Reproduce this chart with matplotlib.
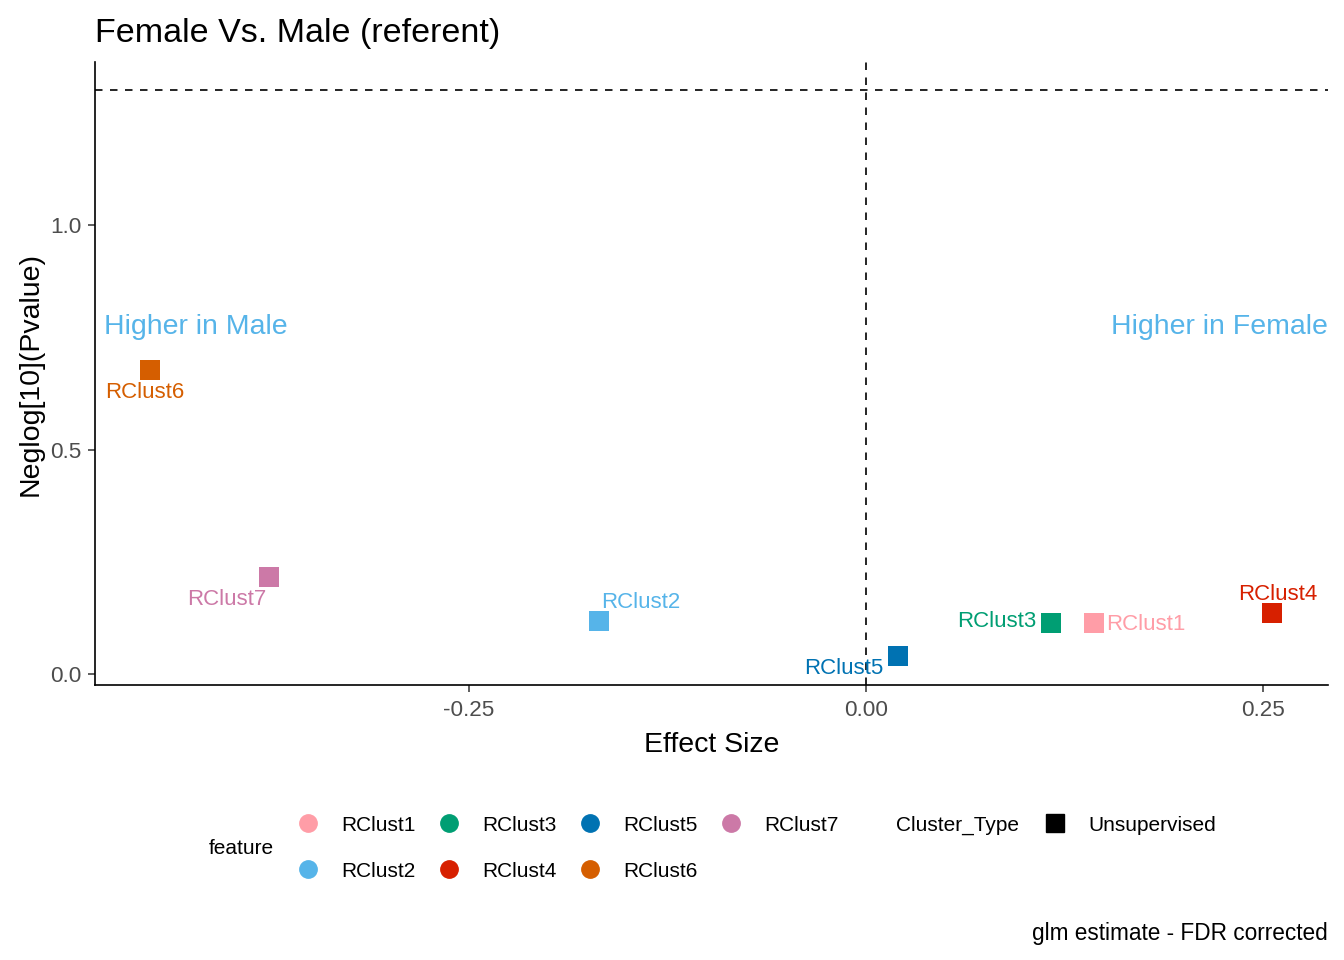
import numpy as np
import matplotlib.pyplot as plt
from matplotlib.lines import Line2D

plt.rcParams['font.family'] = ['Liberation Sans', 'DejaVu Sans']

# data
features = ['RClust1', 'RClust2', 'RClust3', 'RClust4', 'RClust5', 'RClust6', 'RClust7']
effect = [0.144, -0.168, 0.1165, 0.2557, 0.0202, -0.4509, -0.376]
neglogp = [0.1136, 0.118, 0.1136, 0.136, 0.040, 0.677, 0.216]
colors = ['#FF9DA7', '#56B4E9', '#009E73', '#D72000', '#0072B2', '#D55E00', '#CC79A7']
# label offsets (points) from ggrepel-like placement
label_dx = [37, 30, -39, 4, -39, -4, -30]
label_dy = [-1, 13, 1, 13, -9, -16, -16]

sig_line = -np.log10(0.05)

fig = plt.figure(figsize=(13.44, 9.6), dpi=100)
ax = fig.add_axes([0.0707, 0.2865, 0.9173, 0.6485])

for i in range(len(features)):
    ax.scatter(effect[i], neglogp[i], marker='s', s=190, color=colors[i], zorder=3, linewidths=0)
    ax.annotate(features[i], (effect[i], neglogp[i]), xytext=(label_dx[i], label_dy[i]),
                textcoords='offset points', ha='center', va='center',
                fontsize=16, color=colors[i], zorder=4)

ax.axhline(sig_line, color='black', lw=1.2, ls=(0, (4.5, 4.5)), zorder=1)
ax.axvline(0, color='black', lw=1.2, ls=(0, (4.5, 4.5)), zorder=1)

ax.annotate('Higher in Male', (0.0073, 0.773), xycoords=('axes fraction', 'data'),
            ha='left', va='center', fontsize=20.5, color='#56B4E9')
ax.annotate('Higher in Female', (1.0, 0.773), xycoords=('axes fraction', 'data'),
            ha='right', va='center', fontsize=20.5, color='#56B4E9')

ax.set_xlim(-0.4855, 0.291)
ax.set_ylim(-0.0245, 1.363)
ax.set_xticks([-0.25, 0.0, 0.25])
ax.set_xticklabels(['-0.25', '0.00', '0.25'])
ax.set_yticks([0.0, 0.5, 1.0])
ax.set_yticklabels(['0.0', '0.5', '1.0'])

for side in ['top', 'right']:
    ax.spines[side].set_visible(False)
for side in ['left', 'bottom']:
    ax.spines[side].set_linewidth(1.2)
ax.tick_params(axis='x', length=5, width=1.1, color='#333333',
               labelsize=16.2, labelcolor='#4D4D4D', pad=6)
ax.tick_params(axis='y', length=5, width=1.1, color='#333333',
               labelsize=16.2, labelcolor='#4D4D4D', pad=4.5)

ax.set_xlabel('Effect Size', fontsize=20.5, labelpad=8)
ax.set_ylabel('Neglog[10](Pvalue)', fontsize=20.5, labelpad=5)
ax.set_title('Female Vs. Male (referent)', loc='left', fontsize=24.5, pad=15)

# legend: feature
handles = [Line2D([], [], marker='o', ls='', markersize=12.5, color=c) for c in colors]
leg1 = fig.legend(handles, features, ncol=4, frameon=False, fontsize=15,
                  loc='center left', bbox_to_anchor=(0.2214, 0.1165),
                  handlelength=1.0, handletextpad=1.1, columnspacing=1.1,
                  labelspacing=1.3, borderaxespad=0, borderpad=0)
fig.text(0.155, 0.1165, 'feature', fontsize=15, ha='left', va='center')

# legend: Cluster_Type
fig.text(0.667, 0.1405, 'Cluster_Type', fontsize=15, ha='left', va='center')
h2 = [Line2D([], [], marker='s', ls='', markersize=12.5, color='black')]
fig.legend(h2, ['Unsupervised'], frameon=False, fontsize=15, loc='center left',
           bbox_to_anchor=(0.777, 0.1405), handlelength=1.0, handletextpad=1.1,
           borderaxespad=0, borderpad=0)

fig.text(0.988, 0.028, 'glm estimate - FDR corrected', fontsize=16.3, ha='right', va='center')

fig.savefig('out.png', dpi=100)
